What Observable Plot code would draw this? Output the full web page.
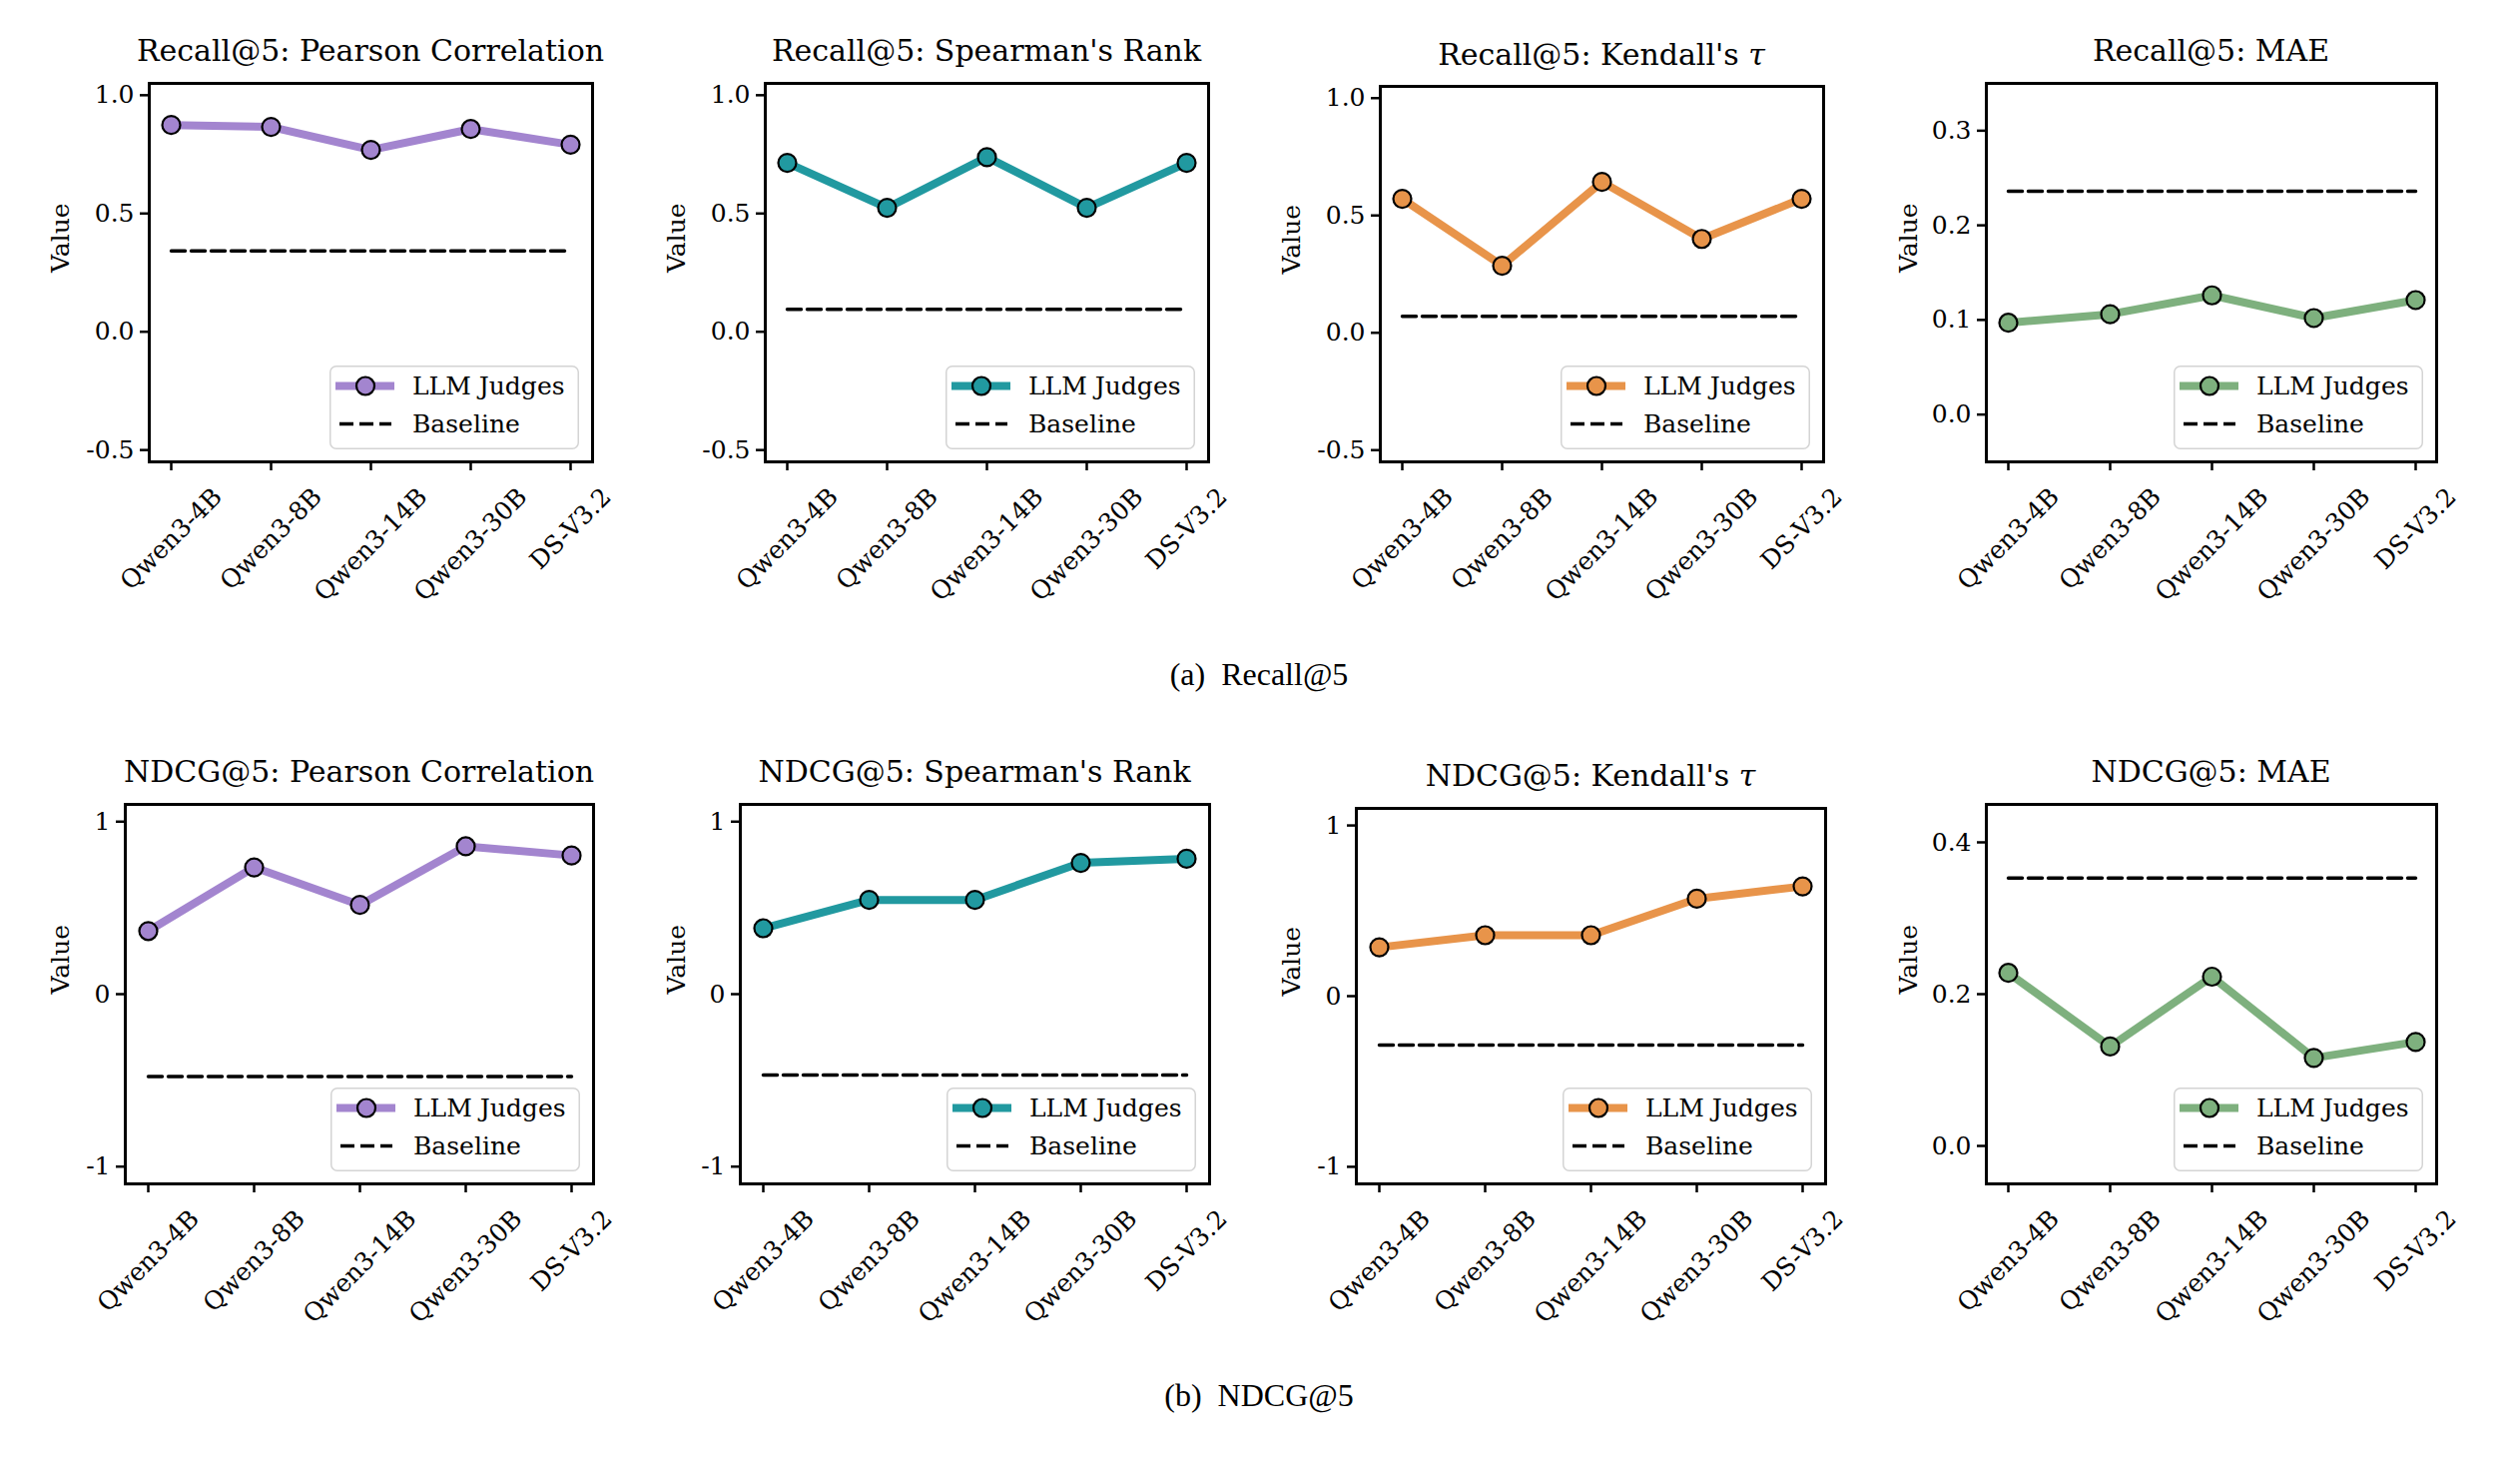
<!DOCTYPE html>
<html>
<head>
<meta charset="utf-8">
<script src="https://cdn.jsdelivr.net/npm/d3@7"></script>
<script src="https://cdn.jsdelivr.net/npm/@observablehq/plot@0.6"></script>
<style>
  body { margin: 0; background: #fff; }
  #page { position: relative; width: 2524px; height: 1468px; font-family: "DejaVu Serif", serif; color: #000; overflow: hidden; }
  .panel { position: absolute; }
  .panel svg { max-width: none; display: block; }
  .panel-title { position: absolute; font-size: 30px; line-height: 1; white-space: nowrap; transform: translate(-50%, -50%); }
  .caption { position: absolute; font-family: "Liberation Serif", serif; font-size: 32px; line-height: 1; white-space: nowrap; transform: translate(-50%, -50%); }
</style>
</head>
<body>
<div id="page"></div>
<script>
// Judge models on the x axis
const models = ["Qwen3-4B", "Qwen3-8B", "Qwen3-14B", "Qwen3-30B", "DS-V3.2"];

// Recall@5 agreement metrics per judge
const recallPearson  = [0.874, 0.866, 0.769, 0.857, 0.791];
const recallSpearman = [0.714, 0.524, 0.738, 0.524, 0.714];
const recallKendall  = [0.571, 0.286, 0.643, 0.400, 0.571];
const recallMAE      = [0.097, 0.106, 0.126, 0.102, 0.121];
// Baseline per metric: Pearson, Spearman, Kendall, MAE
const recallBaseline = [0.342, 0.095, 0.070, 0.236];

// NDCG@5 agreement metrics per judge
const ndcgPearson  = [0.366, 0.735, 0.517, 0.857, 0.804];
const ndcgSpearman = [0.382, 0.546, 0.546, 0.761, 0.785];
const ndcgKendall  = [0.286, 0.357, 0.357, 0.571, 0.643];
const ndcgMAE      = [0.228, 0.131, 0.223, 0.116, 0.137];
const ndcgBaseline = [-0.477, -0.469, -0.287, 0.353];

// Panel titles, colours and captions
const metricNames = ["Pearson Correlation", "Spearman's Rank", "Kendall's <i>τ</i>", "MAE"];
const metricColors = ["#a385cf", "#2199a0", "#e8944a", "#7eb07e"];
const rowNames = ["Recall@5", "NDCG@5"];
const captions = ["(a)", "(b)"];

// Axis settings per row: three correlation panels then MAE
const recallDomains = [[-0.55, 1.05], [-0.55, 1.05], [-0.55, 1.05], [-0.05, 0.35]];
const recallTicks   = [[-0.5, 0, 0.5, 1], [-0.5, 0, 0.5, 1], [-0.5, 0, 0.5, 1], [0, 0.1, 0.2, 0.3]];
const ndcgDomains   = [[-1.1, 1.1], [-1.1, 1.1], [-1.1, 1.1], [-0.05, 0.45]];
const ndcgTicks     = [[-1, 0, 1], [-1, 0, 1], [-1, 0, 1], [0, 0.2, 0.4]];
const fmt1 = d => d.toFixed(1);
const fmtInt = d => String(d);

// Page layout: frame box of each panel (px)
const layout = [
  { frames: [
      {l: 149, r: 593, t: 83, b: 462}, {l: 766, r: 1210, t: 83, b: 462},
      {l: 1382, r: 1826, t: 86, b: 462}, {l: 1989, r: 2440, t: 83, b: 462}],
    titleY: [51, 51, 55, 51], valueDx: [-89, -89, -89, -78],
    fmts: [fmt1, fmt1, fmt1, fmt1],
    captionY: 675 },
  { frames: [
      {l: 125, r: 594, t: 805, b: 1185}, {l: 741, r: 1211, t: 805, b: 1185},
      {l: 1358, r: 1828, t: 809, b: 1185}, {l: 1989, r: 2440, t: 805, b: 1185}],
    titleY: [773, 773, 777, 773], valueDx: [-65, -64, -65, -78],
    fmts: [fmtInt, fmtInt, fmtInt, fmt1],
    captionY: 1397 }
];
const legendBox = {w: 250, h: 84, insetR: 13, insetB: 12.5, y1: 20.5, y2: 58.5};
const FONT = 25;

const rowsData = [
  {series: [recallPearson, recallSpearman, recallKendall, recallMAE], base: recallBaseline, domains: recallDomains, ticks: recallTicks},
  {series: [ndcgPearson, ndcgSpearman, ndcgKendall, ndcgMAE], base: ndcgBaseline, domains: ndcgDomains, ticks: ndcgTicks}
];

const page = document.getElementById("page");
const DASH = "14,6";

function drawPanel(f, values, baseline, color, domain, ticks, fmt, valueDx) {
  const mL = 120, mR = 80, mT = 14, mB = 210;
  const w = f.r - f.l, h = f.b - f.t;
  const W = w + mL + mR, H = h + mT + mB;
  const pts = models.map((m, i) => ({model: m, value: values[i]}));
  const basePts = models.map(m => ({model: m, value: baseline}));
  const svg = Plot.plot({
    width: W,
    height: H,
    marginLeft: mL, marginRight: mR, marginTop: mT, marginBottom: mB,
    style: `font-family: 'DejaVu Serif', serif; font-size: ${FONT}px; background: transparent; overflow: visible; color: black;`,
    x: {type: "point", domain: models, padding: 0.2},
    y: {domain},
    marks: [
      Plot.axisY(ticks, {tickSize: 9, tickPadding: 6, strokeWidth: 2.5, tickFormat: fmt, label: null,
                         fontSize: FONT, fontFamily: "DejaVu Serif"}),
      Plot.axisX({tickSize: 9, strokeWidth: 2.5, tickFormat: () => "", label: null}),
      Plot.line(basePts, {x: "model", y: "value", stroke: "black", strokeWidth: 3.5, strokeDasharray: DASH}),
      Plot.line(pts, {x: "model", y: "value", stroke: color, strokeWidth: 8}),
      Plot.dot(pts, {x: "model", y: "value", r: 9, fill: color, stroke: "black", strokeWidth: 2.2}),
      Plot.text(models, {x: d => d, text: d => d, frameAnchor: "bottom", rotate: -45,
                         textAnchor: "middle", lineAnchor: "middle", fontSize: FONT, fontFamily: "DejaVu Serif"}),
      Plot.text(["Value"], {text: d => d, frameAnchor: "left", rotate: -90, dx: valueDx,
                            fontSize: FONT, fontFamily: "DejaVu Serif"}),
      Plot.frame({stroke: "black", strokeWidth: 3})
    ]
  });
  const holder = document.createElement("div");
  holder.className = "panel";
  holder.style.left = (f.l - mL) + "px";
  holder.style.top = (f.t - mT) + "px";
  holder.style.width = W + "px";
  holder.style.height = H + "px";
  holder.appendChild(svg);
  page.appendChild(holder);

  // Rotated model names: centre each rotated label under its tick
  const xs = svg.scale("x");
  const bottom = mT + h;
  d3.select(svg).selectAll("text").each(function () {
    const name = this.textContent;
    if (!models.includes(name)) return;
    const L = this.getComputedTextLength();
    const cy = bottom + 21 + (L + 28) * 0.3536;
    this.setAttribute("transform", `translate(${xs.apply(name)},${cy}) rotate(-45)`);
  });
}

function drawLegend(f, color) {
  const lg = legendBox;
  const W = lg.w, H = lg.h;
  const svg = d3.create("svg")
    .attr("width", W).attr("height", H)
    .style("position", "absolute")
    .style("left", (f.r - lg.insetR - W) + "px")
    .style("top", (f.b - lg.insetB - H) + "px")
    .style("overflow", "visible")
    .style("font-family", "DejaVu Serif")
    .style("font-size", FONT + "px");
  svg.append("rect").attr("x", 0.75).attr("y", 0.75).attr("width", W - 1.5).attr("height", H - 1.5)
    .attr("rx", 6).attr("fill", "rgba(255,255,255,0.8)").attr("stroke", "#d4d4d4").attr("stroke-width", 1.5);
  svg.append("line").attr("x1", 6).attr("x2", 65).attr("y1", lg.y1).attr("y2", lg.y1)
    .attr("stroke", color).attr("stroke-width", 8);
  svg.append("circle").attr("cx", 36).attr("cy", lg.y1).attr("r", 9)
    .attr("fill", color).attr("stroke", "black").attr("stroke-width", 2.2);
  svg.append("text").attr("x", 83).attr("y", lg.y1).attr("dominant-baseline", "central").text("LLM Judges");
  svg.append("line").attr("x1", 10).attr("x2", 62).attr("y1", lg.y2).attr("y2", lg.y2)
    .attr("stroke", "black").attr("stroke-width", 3.5).attr("stroke-dasharray", DASH);
  svg.append("text").attr("x", 83).attr("y", lg.y2).attr("dominant-baseline", "central").text("Baseline");
  page.appendChild(svg.node());
}

layout.forEach((row, r) => {
  const data = rowsData[r];
  row.frames.forEach((f, k) => {
    drawPanel(f, data.series[k], data.base[k], metricColors[k], data.domains[k], data.ticks[k], row.fmts[k], row.valueDx[k]);
    drawLegend(f, metricColors[k]);
    const t = document.createElement("div");
    t.className = "panel-title";
    t.style.left = ((f.l + f.r) / 2) + "px";
    t.style.top = row.titleY[k] + "px";
    t.innerHTML = `${rowNames[r]}: ${metricNames[k]}`;
    page.appendChild(t);
  });
  const c = document.createElement("div");
  c.className = "caption";
  c.style.left = "1261px";
  c.style.top = row.captionY + "px";
  c.innerHTML = `${captions[r]}&ensp;${rowNames[r]}`;
  page.appendChild(c);
});
</script>
</body>
</html>
